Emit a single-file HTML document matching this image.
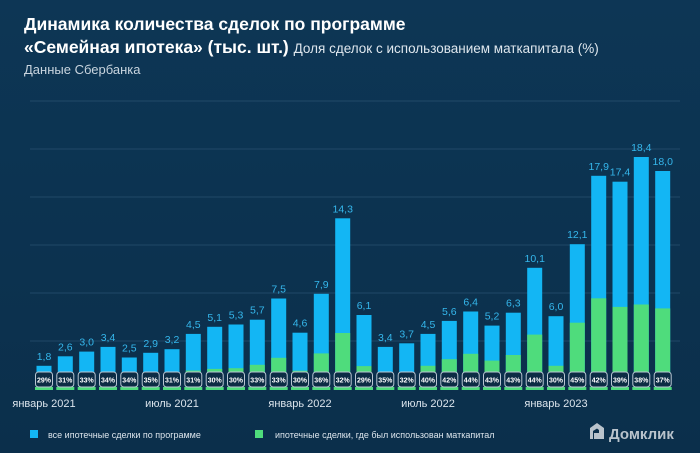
<!DOCTYPE html>
<html><head><meta charset="utf-8"><style>
html,body{margin:0;padding:0;background:#0c3452;}
svg{display:block;font-family:"Liberation Sans","DejaVu Sans",sans-serif;}
.b{fill:#13b6f4}.g{fill:#4fdc7c}
.v{font-size:10.5px;fill:#35b7ec;text-anchor:middle}
.s{fill:#4fdc7c}
.k{fill:#0c2c44;stroke:#b8c6d2;stroke-width:1}
.p{font-size:7px;font-weight:bold;fill:#fff;text-anchor:middle}
</style></head><body>
<svg width="700" height="453" viewBox="0 0 700 453" xmlns="http://www.w3.org/2000/svg">
<defs><linearGradient id="bg" x1="0" y1="0" x2="0" y2="1"><stop offset="0" stop-color="#0d3655"/><stop offset="1" stop-color="#0b2f4b"/></linearGradient></defs>
<rect width="700" height="453" fill="url(#bg)"/>
<g stroke="#2a5272" stroke-width="1" opacity="0.7">
<line x1="30" x2="680" y1="101" y2="101"/><line x1="30" x2="680" y1="149" y2="149"/>
<line x1="30" x2="680" y1="197" y2="197"/><line x1="30" x2="680" y1="245" y2="245"/>
<line x1="30" x2="680" y1="293" y2="293"/><line x1="30" x2="680" y1="341" y2="341"/>
</g>
<text x="24" y="30" fill="#fff" font-size="17.5" font-weight="bold">Динамика количества сделок по программе</text>
<text x="24" y="53" fill="#fff" font-size="17.5" font-weight="bold">«Семейная ипотека» (тыс. шт.) <tspan font-weight="normal" font-size="13.5" fill="#dfe7ee">Доля сделок с использованием маткапитала (%)</tspan></text>
<text x="24" y="74" fill="#c9d5df" font-size="13">Данные Сбербанка</text>

<g transform="translate(44,0)"><rect class="b" x="-7.5" y="365.8" width="15" height="21.2"/><rect class="g" x="-7.5" y="380.8" width="15" height="6.2"/><text class="v" x="0" y="359.8">1,8</text><rect class="s" x="-9" y="387" width="18" height="3"/><rect class="k" x="-8.5" y="372" width="17" height="15" rx="3"/><text class="p" x="0" y="382.5">29%</text></g>
<g transform="translate(65.3,0)"><rect class="b" x="-7.5" y="356.3" width="15" height="30.7"/><rect class="g" x="-7.5" y="377.5" width="15" height="9.5"/><text class="v" x="0" y="350.3">2,6</text><rect class="s" x="-9" y="387" width="18" height="3"/><rect class="k" x="-8.5" y="372" width="17" height="15" rx="3"/><text class="p" x="0" y="382.5">31%</text></g>
<g transform="translate(86.7,0)"><rect class="b" x="-7.5" y="351.6" width="15" height="35.4"/><rect class="g" x="-7.5" y="375.3" width="15" height="11.7"/><text class="v" x="0" y="345.6">3,0</text><rect class="s" x="-9" y="387" width="18" height="3"/><rect class="k" x="-8.5" y="372" width="17" height="15" rx="3"/><text class="p" x="0" y="382.5">33%</text></g>
<g transform="translate(108,0)"><rect class="b" x="-7.5" y="346.9" width="15" height="40.1"/><rect class="g" x="-7.5" y="373.4" width="15" height="13.6"/><text class="v" x="0" y="340.9">3,4</text><rect class="s" x="-9" y="387" width="18" height="3"/><rect class="k" x="-8.5" y="372" width="17" height="15" rx="3"/><text class="p" x="0" y="382.5">34%</text></g>
<g transform="translate(129.3,0)"><rect class="b" x="-7.5" y="357.5" width="15" height="29.5"/><rect class="g" x="-7.5" y="377" width="15" height="10"/><text class="v" x="0" y="351.5">2,5</text><rect class="s" x="-9" y="387" width="18" height="3"/><rect class="k" x="-8.5" y="372" width="17" height="15" rx="3"/><text class="p" x="0" y="382.5">34%</text></g>
<g transform="translate(150.7,0)"><rect class="b" x="-7.5" y="352.8" width="15" height="34.2"/><rect class="g" x="-7.5" y="375" width="15" height="12"/><text class="v" x="0" y="346.8">2,9</text><rect class="s" x="-9" y="387" width="18" height="3"/><rect class="k" x="-8.5" y="372" width="17" height="15" rx="3"/><text class="p" x="0" y="382.5">35%</text></g>
<g transform="translate(172,0)"><rect class="b" x="-7.5" y="349.2" width="15" height="37.8"/><rect class="g" x="-7.5" y="375.3" width="15" height="11.7"/><text class="v" x="0" y="343.2">3,2</text><rect class="s" x="-9" y="387" width="18" height="3"/><rect class="k" x="-8.5" y="372" width="17" height="15" rx="3"/><text class="p" x="0" y="382.5">31%</text></g>
<g transform="translate(193.3,0)"><rect class="b" x="-7.5" y="333.9" width="15" height="53.1"/><rect class="g" x="-7.5" y="370.5" width="15" height="16.5"/><text class="v" x="0" y="327.9">4,5</text><rect class="s" x="-9" y="387" width="18" height="3"/><rect class="k" x="-8.5" y="372" width="17" height="15" rx="3"/><text class="p" x="0" y="382.5">31%</text></g>
<g transform="translate(214.7,0)"><rect class="b" x="-7.5" y="326.8" width="15" height="60.2"/><rect class="g" x="-7.5" y="368.9" width="15" height="18.1"/><text class="v" x="0" y="320.8">5,1</text><rect class="s" x="-9" y="387" width="18" height="3"/><rect class="k" x="-8.5" y="372" width="17" height="15" rx="3"/><text class="p" x="0" y="382.5">30%</text></g>
<g transform="translate(236,0)"><rect class="b" x="-7.5" y="324.5" width="15" height="62.5"/><rect class="g" x="-7.5" y="368.2" width="15" height="18.8"/><text class="v" x="0" y="318.5">5,3</text><rect class="s" x="-9" y="387" width="18" height="3"/><rect class="k" x="-8.5" y="372" width="17" height="15" rx="3"/><text class="p" x="0" y="382.5">30%</text></g>
<g transform="translate(257.3,0)"><rect class="b" x="-7.5" y="319.7" width="15" height="67.3"/><rect class="g" x="-7.5" y="364.8" width="15" height="22.2"/><text class="v" x="0" y="313.7">5,7</text><rect class="s" x="-9" y="387" width="18" height="3"/><rect class="k" x="-8.5" y="372" width="17" height="15" rx="3"/><text class="p" x="0" y="382.5">33%</text></g>
<g transform="translate(278.7,0)"><rect class="b" x="-7.5" y="298.5" width="15" height="88.5"/><rect class="g" x="-7.5" y="357.8" width="15" height="29.2"/><text class="v" x="0" y="292.5">7,5</text><rect class="s" x="-9" y="387" width="18" height="3"/><rect class="k" x="-8.5" y="372" width="17" height="15" rx="3"/><text class="p" x="0" y="382.5">33%</text></g>
<g transform="translate(300,0)"><rect class="b" x="-7.5" y="332.7" width="15" height="54.3"/><rect class="g" x="-7.5" y="370.7" width="15" height="16.3"/><text class="v" x="0" y="326.7">4,6</text><rect class="s" x="-9" y="387" width="18" height="3"/><rect class="k" x="-8.5" y="372" width="17" height="15" rx="3"/><text class="p" x="0" y="382.5">30%</text></g>
<g transform="translate(321.3,0)"><rect class="b" x="-7.5" y="293.8" width="15" height="93.2"/><rect class="g" x="-7.5" y="353.4" width="15" height="33.6"/><text class="v" x="0" y="287.8">7,9</text><rect class="s" x="-9" y="387" width="18" height="3"/><rect class="k" x="-8.5" y="372" width="17" height="15" rx="3"/><text class="p" x="0" y="382.5">36%</text></g>
<g transform="translate(342.7,0)"><rect class="b" x="-7.5" y="218.3" width="15" height="168.7"/><rect class="g" x="-7.5" y="333" width="15" height="54"/><text class="v" x="0" y="212.3">14,3</text><rect class="s" x="-9" y="387" width="18" height="3"/><rect class="k" x="-8.5" y="372" width="17" height="15" rx="3"/><text class="p" x="0" y="382.5">32%</text></g>
<g transform="translate(364,0)"><rect class="b" x="-7.5" y="315" width="15" height="72"/><rect class="g" x="-7.5" y="366.1" width="15" height="20.9"/><text class="v" x="0" y="309">6,1</text><rect class="s" x="-9" y="387" width="18" height="3"/><rect class="k" x="-8.5" y="372" width="17" height="15" rx="3"/><text class="p" x="0" y="382.5">29%</text></g>
<g transform="translate(385.3,0)"><rect class="b" x="-7.5" y="346.9" width="15" height="40.1"/><rect class="g" x="-7.5" y="373" width="15" height="14"/><text class="v" x="0" y="340.9">3,4</text><rect class="s" x="-9" y="387" width="18" height="3"/><rect class="k" x="-8.5" y="372" width="17" height="15" rx="3"/><text class="p" x="0" y="382.5">35%</text></g>
<g transform="translate(406.7,0)"><rect class="b" x="-7.5" y="343.3" width="15" height="43.7"/><rect class="g" x="-7.5" y="373" width="15" height="14"/><text class="v" x="0" y="337.3">3,7</text><rect class="s" x="-9" y="387" width="18" height="3"/><rect class="k" x="-8.5" y="372" width="17" height="15" rx="3"/><text class="p" x="0" y="382.5">32%</text></g>
<g transform="translate(428,0)"><rect class="b" x="-7.5" y="333.9" width="15" height="53.1"/><rect class="g" x="-7.5" y="365.8" width="15" height="21.2"/><text class="v" x="0" y="327.9">4,5</text><rect class="s" x="-9" y="387" width="18" height="3"/><rect class="k" x="-8.5" y="372" width="17" height="15" rx="3"/><text class="p" x="0" y="382.5">40%</text></g>
<g transform="translate(449.3,0)"><rect class="b" x="-7.5" y="320.9" width="15" height="66.1"/><rect class="g" x="-7.5" y="359.2" width="15" height="27.8"/><text class="v" x="0" y="314.9">5,6</text><rect class="s" x="-9" y="387" width="18" height="3"/><rect class="k" x="-8.5" y="372" width="17" height="15" rx="3"/><text class="p" x="0" y="382.5">42%</text></g>
<g transform="translate(470.7,0)"><rect class="b" x="-7.5" y="311.5" width="15" height="75.5"/><rect class="g" x="-7.5" y="353.8" width="15" height="33.2"/><text class="v" x="0" y="305.5">6,4</text><rect class="s" x="-9" y="387" width="18" height="3"/><rect class="k" x="-8.5" y="372" width="17" height="15" rx="3"/><text class="p" x="0" y="382.5">44%</text></g>
<g transform="translate(492,0)"><rect class="b" x="-7.5" y="325.6" width="15" height="61.4"/><rect class="g" x="-7.5" y="360.6" width="15" height="26.4"/><text class="v" x="0" y="319.6">5,2</text><rect class="s" x="-9" y="387" width="18" height="3"/><rect class="k" x="-8.5" y="372" width="17" height="15" rx="3"/><text class="p" x="0" y="382.5">43%</text></g>
<g transform="translate(513.3,0)"><rect class="b" x="-7.5" y="312.7" width="15" height="74.3"/><rect class="g" x="-7.5" y="355" width="15" height="32"/><text class="v" x="0" y="306.7">6,3</text><rect class="s" x="-9" y="387" width="18" height="3"/><rect class="k" x="-8.5" y="372" width="17" height="15" rx="3"/><text class="p" x="0" y="382.5">43%</text></g>
<g transform="translate(534.7,0)"><rect class="b" x="-7.5" y="267.8" width="15" height="119.2"/><rect class="g" x="-7.5" y="334.6" width="15" height="52.4"/><text class="v" x="0" y="261.8">10,1</text><rect class="s" x="-9" y="387" width="18" height="3"/><rect class="k" x="-8.5" y="372" width="17" height="15" rx="3"/><text class="p" x="0" y="382.5">44%</text></g>
<g transform="translate(556,0)"><rect class="b" x="-7.5" y="316.2" width="15" height="70.8"/><rect class="g" x="-7.5" y="365.8" width="15" height="21.2"/><text class="v" x="0" y="310.2">6,0</text><rect class="s" x="-9" y="387" width="18" height="3"/><rect class="k" x="-8.5" y="372" width="17" height="15" rx="3"/><text class="p" x="0" y="382.5">30%</text></g>
<g transform="translate(577.3,0)"><rect class="b" x="-7.5" y="244.2" width="15" height="142.8"/><rect class="g" x="-7.5" y="322.7" width="15" height="64.3"/><text class="v" x="0" y="238.2">12,1</text><rect class="s" x="-9" y="387" width="18" height="3"/><rect class="k" x="-8.5" y="372" width="17" height="15" rx="3"/><text class="p" x="0" y="382.5">45%</text></g>
<g transform="translate(598.7,0)"><rect class="b" x="-7.5" y="175.8" width="15" height="211.2"/><rect class="g" x="-7.5" y="298.3" width="15" height="88.7"/><text class="v" x="0" y="169.8">17,9</text><rect class="s" x="-9" y="387" width="18" height="3"/><rect class="k" x="-8.5" y="372" width="17" height="15" rx="3"/><text class="p" x="0" y="382.5">42%</text></g>
<g transform="translate(620,0)"><rect class="b" x="-7.5" y="181.7" width="15" height="205.3"/><rect class="g" x="-7.5" y="306.9" width="15" height="80.1"/><text class="v" x="0" y="175.7">17,4</text><rect class="s" x="-9" y="387" width="18" height="3"/><rect class="k" x="-8.5" y="372" width="17" height="15" rx="3"/><text class="p" x="0" y="382.5">39%</text></g>
<g transform="translate(641.3,0)"><rect class="b" x="-7.5" y="157" width="15" height="230"/><rect class="g" x="-7.5" y="304.5" width="15" height="82.5"/><text class="v" x="0" y="151">18,4</text><rect class="s" x="-9" y="387" width="18" height="3"/><rect class="k" x="-8.5" y="372" width="17" height="15" rx="3"/><text class="p" x="0" y="382.5">38%</text></g>
<g transform="translate(662.7,0)"><rect class="b" x="-7.5" y="171" width="15" height="216"/><rect class="g" x="-7.5" y="308.4" width="15" height="78.6"/><text class="v" x="0" y="165">18,0</text><rect class="s" x="-9" y="387" width="18" height="3"/><rect class="k" x="-8.5" y="372" width="17" height="15" rx="3"/><text class="p" x="0" y="382.5">37%</text></g>

<g font-size="11" fill="#dbe4ec">
<text x="44" y="407" text-anchor="middle">январь 2021</text>
<text x="172" y="407" text-anchor="middle">июль 2021</text>
<text x="300" y="407" text-anchor="middle">январь 2022</text>
<text x="428" y="407" text-anchor="middle">июль 2022</text>
<text x="556" y="407" text-anchor="middle">январь 2023</text>
</g>
<rect x="30" y="430" width="8" height="8" fill="#13b6f4"/>
<text x="48" y="438" font-size="9" fill="#dbe4ec">все ипотечные сделки по программе</text>
<rect x="255" y="430" width="8" height="8" fill="#4fdc7c"/>
<text x="275" y="438" font-size="9" fill="#dbe4ec">ипотечные сделки, где был использован маткапитал</text>
<path d="M590 428 L597 423 L604 428 L604 439 L594 439 L594 433 L599 433 L599 430 L597 428.5 L593 431 L593 439 L590 439 Z" fill="#b9c3cc"/>
<text x="609" y="439" font-size="15" font-weight="bold" fill="#b9c3cc">Домклик</text>
</svg>
</body></html>
